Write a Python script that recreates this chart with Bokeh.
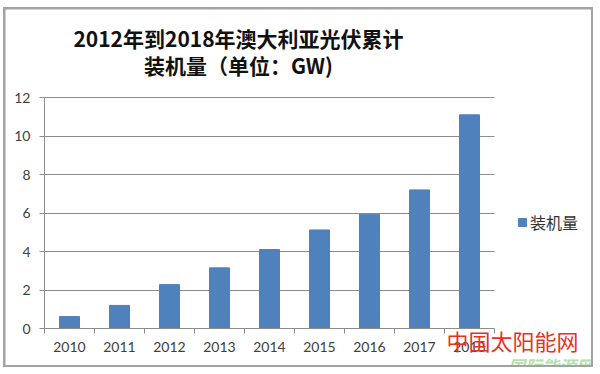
from bokeh.plotting import figure
from bokeh.layouts import column
from bokeh.models import (FixedTicker, Legend, LegendItem, ColumnDataSource,
                          Range1d, Label)
from bokeh.embed import file_html
from bokeh.resources import INLINE

# ---- data ----
years = ["2010", "2011", "2012", "2013", "2014", "2015", "2016", "2017", "2018"]
capacity_gw = [0.62, 1.2, 2.28, 3.15, 4.1, 5.12, 5.94, 7.2, 11.1]
y_ticks = [0, 2, 4, 6, 8, 10, 12]
title_line1 = "2012年到2018年澳大利亚光伏累计"
title_line2 = "装机量（单位：GW)"
series_name = "装机量"
watermark1 = "中国太阳能网"
watermark2 = "国际能源网"

positions = list(range(1, len(years) + 1))
src = ColumnDataSource(dict(x=positions, v=capacity_gw, year=years))

BAR = "#4F81BD"
GRID = "#8c8c8c"
TXT = "#404040"

# layout (pixels of the canvas)
W, H = 586, 356
PLOT_L, PLOT_R, PLOT_T, PLOT_B = 39, 489, 88, 319   # plot area inside canvas
x_lo, x_hi = 0.5, len(years) + 0.5
y_lo, y_hi = y_ticks[0], y_ticks[-1]
xpx = (PLOT_R - PLOT_L) / (x_hi - x_lo)
ypx = (PLOT_B - PLOT_T) / (y_hi - y_lo)
x_range = Range1d(x_lo - PLOT_L / xpx, x_hi + (W - PLOT_R) / xpx)
y_range = Range1d(y_lo - (H - PLOT_B) / ypx, y_hi + PLOT_T / ypx)

p = figure(width=W, height=H, output_backend="svg", toolbar_location=None,
           x_range=x_range, y_range=y_range,
           min_border=0, min_border_left=0, min_border_right=0,
           min_border_top=0, min_border_bottom=0,
           background_fill_color="white", border_fill_color="white",
           outline_line_color=None, margin=(2, 2, 2, 2))

r = p.vbar(x="x", top="v", width=0.4, source=src, fill_color=BAR,
           line_color=BAR)

# x axis: labels at centres, tick marks at category boundaries
xa = p.xaxis[0]
xa.fixed_location = y_lo
xa.bounds = (x_lo, x_hi)
xa.ticker = FixedTicker(ticks=positions,
                        minor_ticks=[i + 0.5 for i in range(len(years) + 1)])
xa.major_label_overrides = {pos: y for pos, y in zip(positions, years)}
xa.major_tick_line_color = None
xa.major_tick_out = 0
xa.major_tick_in = 0
xa.minor_tick_line_color = GRID
xa.minor_tick_out = 5
xa.minor_tick_in = 0
xa.axis_line_color = GRID
xa.major_label_text_font = "Lato"
xa.major_label_text_font_size = "14px"
xa.major_label_text_color = TXT
xa.major_label_standoff = 8

ya = p.yaxis[0]
ya.fixed_location = x_lo
ya.bounds = (y_lo, y_hi)
ya.ticker = FixedTicker(ticks=y_ticks)
ya.axis_line_color = GRID
ya.major_tick_line_color = GRID
ya.major_tick_out = 5
ya.major_tick_in = 0
ya.minor_tick_line_color = None
ya.major_label_text_font = "Lato"
ya.major_label_text_font_size = "14px"
ya.major_label_text_color = TXT
ya.major_label_standoff = 9

p.xgrid.grid_line_color = None
g = p.ygrid[0]
g.ticker = FixedTicker(ticks=y_ticks[1:])
try:
    g.cross_bounds = (x_lo, x_hi)
    g.grid_line_color = GRID
except AttributeError:
    g.grid_line_color = None
    p.segment(x0=x_lo, x1=x_hi, y0=y_ticks[1:], y1=y_ticks[1:],
              line_color=GRID, line_width=1)

# title (two centred lines)
for txt, yy in ((title_line1, 328), (title_line2, 301)):
    p.add_layout(Label(x=233, y=yy, x_units="screen", y_units="screen",
                       text=txt, text_align="center", text_baseline="middle",
                       text_font="Noto Sans CJK SC", text_font_style="bold",
                       text_font_size="21px", text_color="#111111"))

# legend
leg = Legend(items=[LegendItem(label=series_name, renderers=[r])],
             location=(512, 131), glyph_width=10, glyph_height=10,
             label_text_font="Noto Sans CJK SC", label_text_font_size="16px",
             label_text_color="#333333", label_standoff=3, padding=0,
             margin=0, spacing=0, border_line_color=None,
             background_fill_alpha=0)
p.add_layout(leg, "center")

# watermark (bottom right)
p.add_layout(Label(x=507, y=26, x_units="screen", y_units="screen",
                   text=watermark1, text_align="center",
                   text_baseline="middle", text_font="Noto Sans CJK SC",
                   text_font_size="22px", text_color="#e8321e"))
p.add_layout(Label(x=545, y=0, x_units="screen", y_units="screen",
                   text=watermark2, text_align="center",
                   text_baseline="middle", text_font="Noto Sans CJK SC",
                   text_font_style="bold italic", text_font_size="17px",
                   text_color="#a8d8a0", text_alpha=0.85))

page = column(p, margin=(7, 0, 0, 3), styles={"background-color": "#a3a3a3"})

open("out.html", "w").write(file_html(page, INLINE))
